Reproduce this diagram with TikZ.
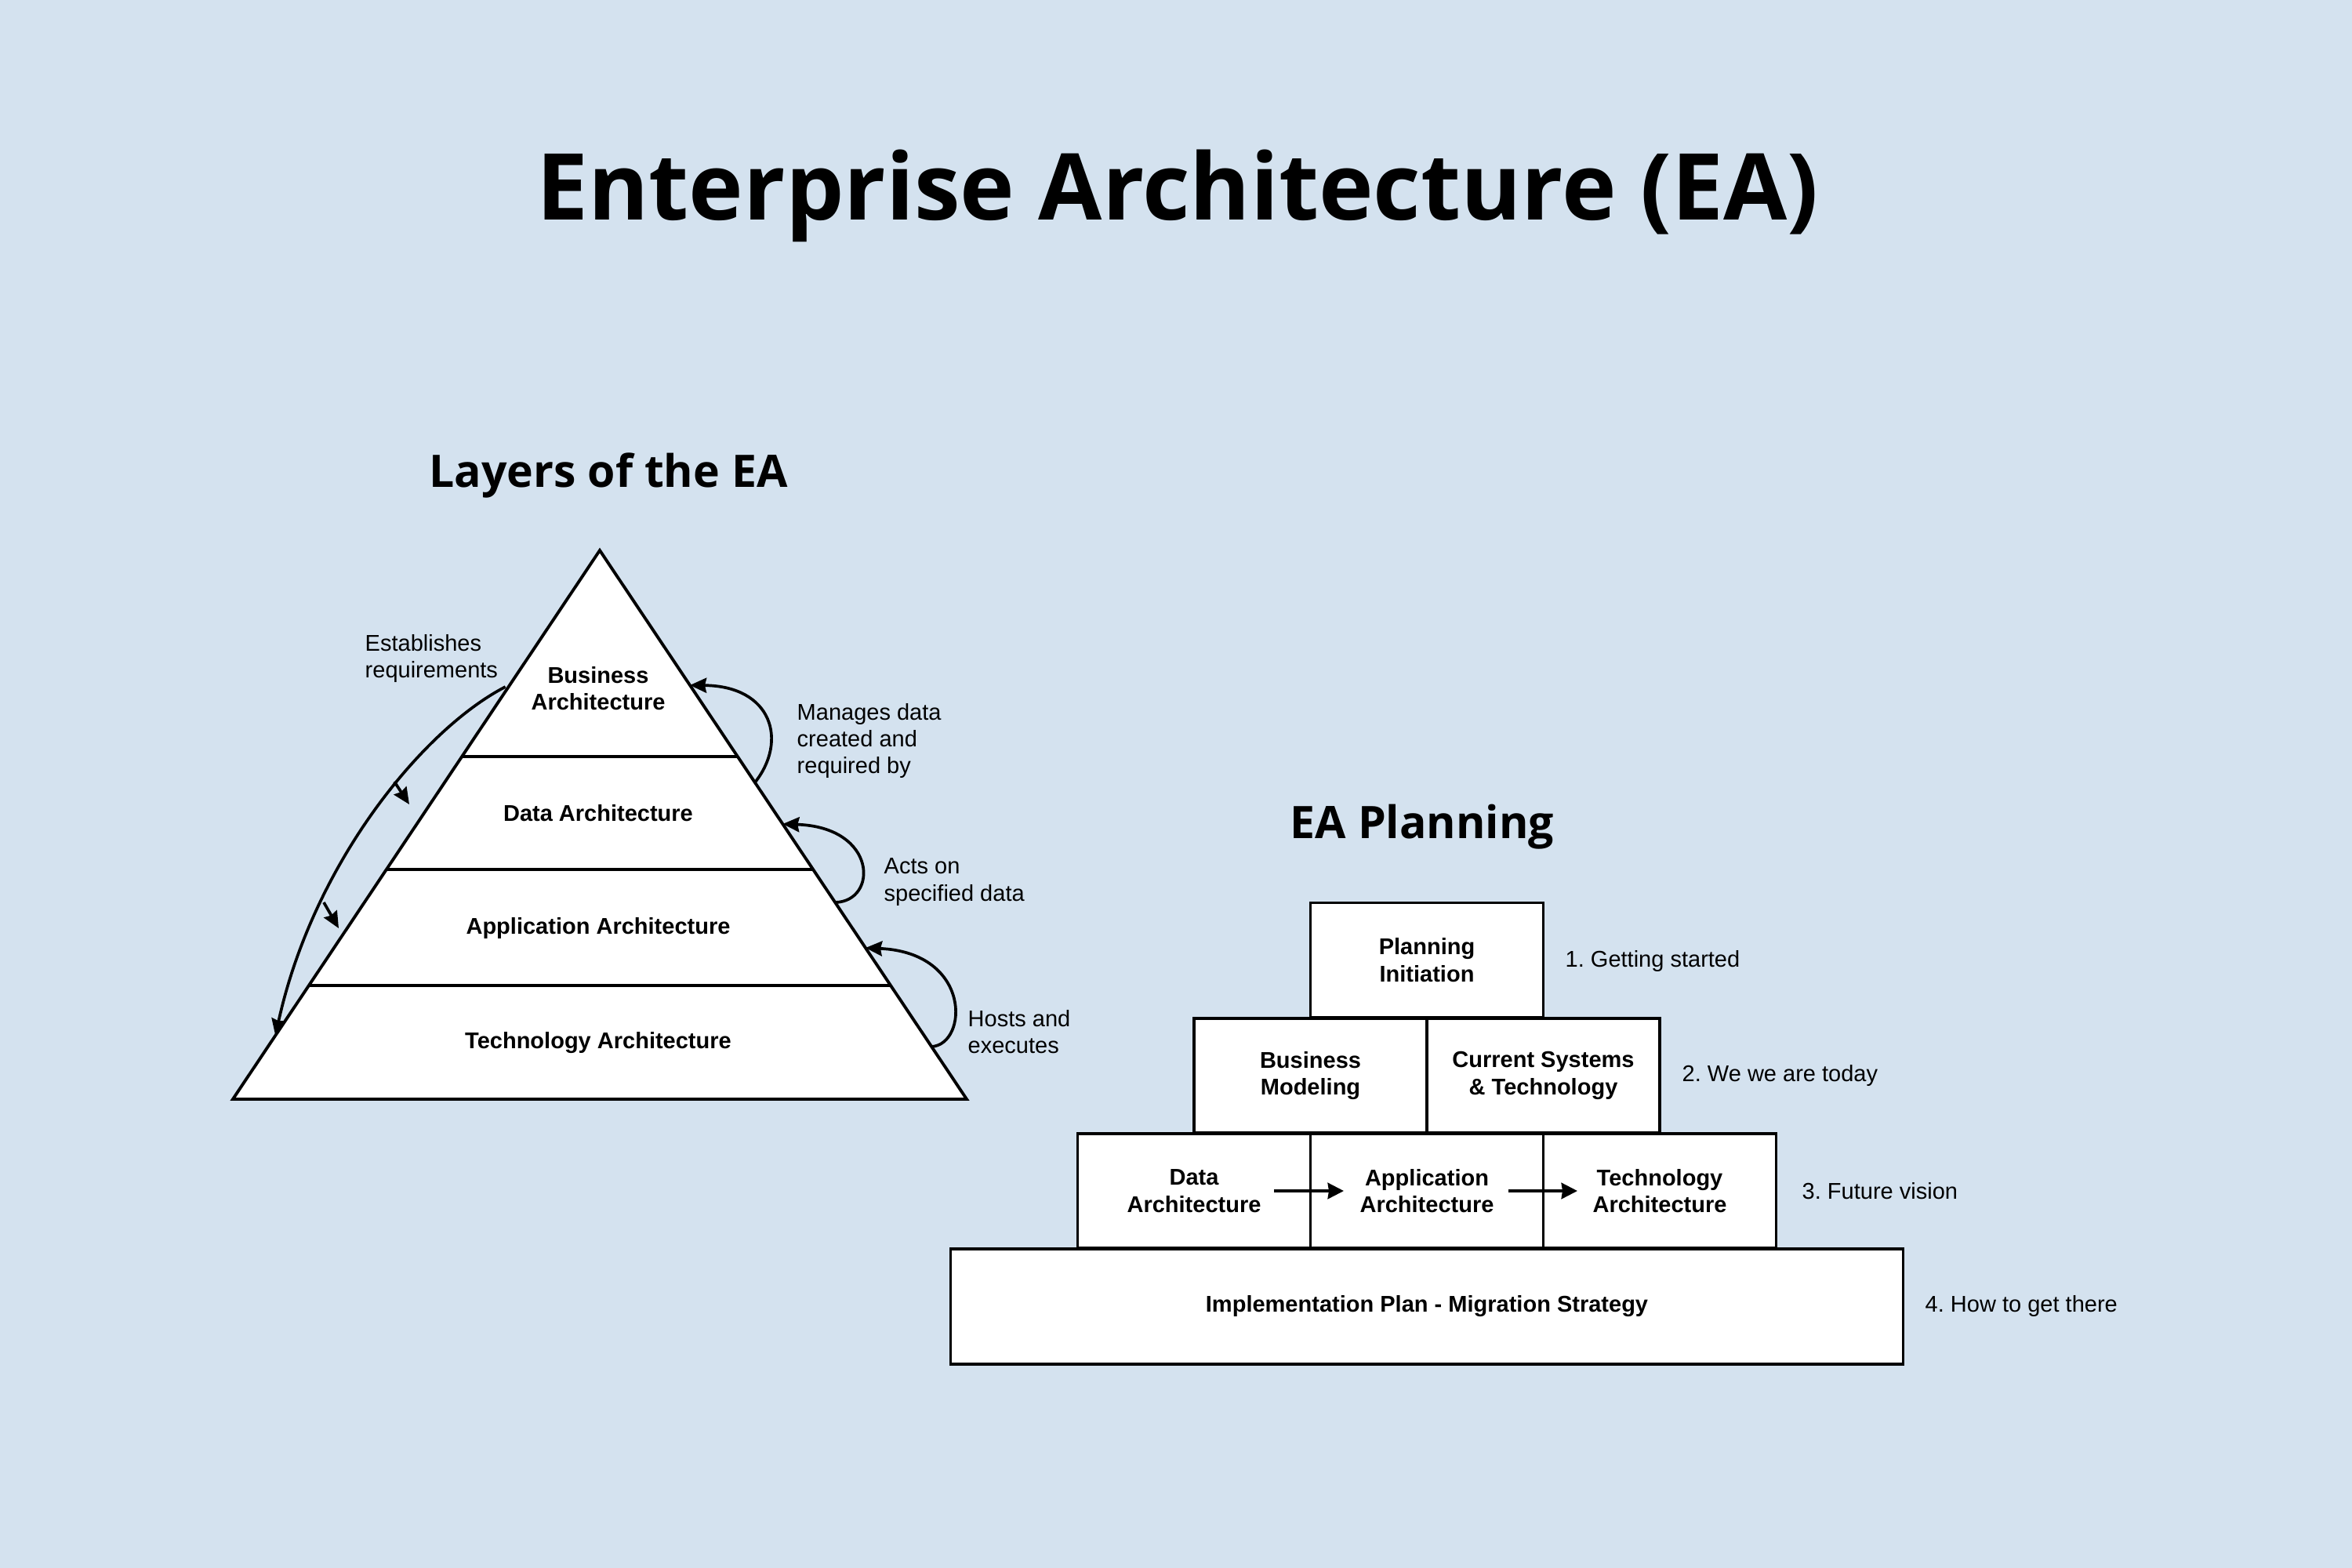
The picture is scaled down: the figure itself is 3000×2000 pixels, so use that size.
\documentclass[tikz,border=0pt]{standalone}
\usepackage{fontspec}
\setmainfont{Liberation Sans}
\newfontfamily\osans{Open Sans}
\usetikzlibrary{arrows.meta,calc}
\definecolor{bgc}{HTML}{D4E2EF}
\frenchspacing
\begin{document}
\begin{tikzpicture}[x=0.01cm,y=-0.01cm,
  lbl/.style={font=\fontsize{8.25}{9.8}\selectfont, align=left, inner sep=0pt, anchor=west},
  ptxt/.style={font=\fontsize{8.25}{9.8}\selectfont\bfseries, align=center, inner sep=0pt},
  pbox/.style={draw, fill=white, line width=1pt, minimum width=2.97cm, minimum height=1.46cm,
    inner sep=0pt, outer sep=0pt, font=\fontsize{8.25}{9.8}\selectfont\bfseries, align=center},
  arr/.style={-{Stealth[length=6pt,width=5.4pt,inset=0.6pt]}, line width=1.05pt},
  harr/.style={-{Stealth[length=5.8pt,width=5.8pt,inset=0.4pt]}, line width=1.1pt},
  ttl/.style={font=\osans\bfseries\fontsize{33.5}{40}\selectfont, inner sep=0pt, anchor=base},
  sub/.style={font=\osans\bfseries\fontsize{16.25}{20}\selectfont, inner sep=0pt, anchor=base}
]
\fill[bgc] (0,0) rectangle (3000,2000);
\useasboundingbox (0,0) rectangle (3000,2000);

% titles
\node[ttl] (title) at (1502,280) {Enterprise Architecture (EA)};
\node[sub] (layers) at (776,621) {Layers of the EA};
\node[sub] (plan) at (1814,1069) {EA Planning};

% pyramid
\coordinate (apex) at (765,702);
\coordinate (bl) at (297,1402);
\coordinate (br) at (1233,1402);
\draw[fill=white, line width=1.1pt] (apex) -- (br) -- (bl) -- cycle;
\draw[line width=1.1pt] ($(apex)!0.3757!(bl)$) -- ($(apex)!0.3757!(br)$);
\draw[line width=1.1pt] ($(apex)!0.5814!(bl)$) -- ($(apex)!0.5814!(br)$);
\draw[line width=1.1pt] ($(apex)!0.7929!(bl)$) -- ($(apex)!0.7929!(br)$);

\node[ptxt] (ba) at (763,878) {Business\\Architecture};
\node[ptxt] (dal) at (763,1037) {Data Architecture};
\node[ptxt] (aal) at (763,1184) {Application Architecture};
\node[ptxt] (tal) at (763,1330) {Technology Architecture};

% labels
\node[lbl] (est) at (465,840) {Establishes\\requirements};
\node[lbl] (man) at (1016,945) {Manages data\\created and\\required by};
\node[lbl] (act) at (1127,1125) {Acts on\\specified data};
\node[lbl] (hos) at (1234,1316) {Hosts and\\executes};

% left arrows
\coordinate (ls) at ($(apex)!0.2486!(bl)+(-4,0)$);
\coordinate (le) at ($(apex)!0.884!(bl)$);
\draw[arr] (ls) .. controls (540,930) and (400,1100) .. (le);
\coordinate (s1a) at (503,997);
\coordinate (s1b) at (522,1026);
\coordinate (s2a) at (413,1151);
\coordinate (s2b) at (432,1184);
\draw[arr] (s1a) -- (s1b);
\draw[arr] (s2a) -- (s2b);

% right arrows
\coordinate (rs1) at ($(apex)!0.4229!(br)$);
\coordinate (rt1) at ($(apex)!0.2457!(br)$);
\coordinate (rs2) at ($(apex)!0.6414!(br)$);
\coordinate (rt2) at ($(apex)!0.4986!(br)$);
\coordinate (rs3) at ($(apex)!0.9043!(br)$);
\coordinate (rt3) at ($(apex)!0.7243!(br)$);
\draw[arr] (rs1) .. controls (1005,945) and (985,875) .. (rt1);
\draw[arr] (rs2) .. controls (1120,1150) and (1120,1055) .. (rt2);
\draw[arr] (rs3) .. controls (1235,1332) and (1240,1215) .. (rt3);

% planning blocks
\node[pbox] (pi) at (1820,1224.5) {Planning\\Initiation};
\node[pbox] (bm) at (1671.5,1372) {Business\\Modeling};
\node[pbox] (cs) at (1968.5,1372) {Current Systems\\\& Technology};
\node[pbox] (da) at (1523,1519) {Data\\Architecture};
\node[pbox] (ap) at (1820,1519) {Application\\Architecture};
\node[pbox] (ta) at (2117,1519) {Technology\\Architecture};
\node[pbox, minimum width=12.14cm, minimum height=1.47cm] (ip) at (1820,1666.5) {Implementation Plan - Migration Strategy};

\draw[harr] ($(da.center)+(102,0)$) -- ($(ap.center)+(-106,0)$);
\draw[harr] ($(ap.center)+(104,0)$) -- ($(ta.center)+(-105,0)$);

\node[lbl] (l1) at (1996,1226) {1. Getting started};
\node[lbl] (l2) at (2145,1372) {2. We we are today};
\node[lbl] (l3) at (2298,1519) {3. Future vision};
\node[lbl] (l4) at (2455,1666) {4. How to get there};
\end{tikzpicture}
\end{document}
